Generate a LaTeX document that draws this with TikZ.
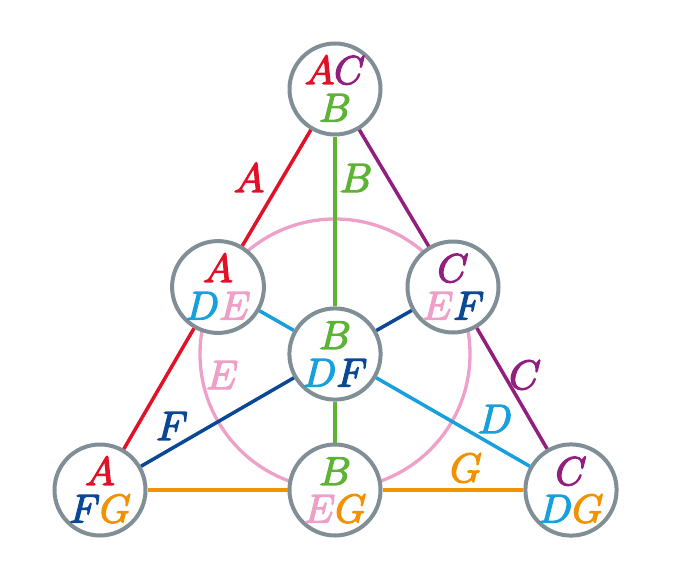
\RequirePackage{fix-cm}
\documentclass[tikz,border=0pt]{standalone}
\definecolor{cA}{RGB}{225,18,40}
\definecolor{cB}{RGB}{94,178,52}
\definecolor{cC}{RGB}{146,30,128}
\definecolor{cD}{RGB}{24,160,220}
\definecolor{cE}{RGB}{238,160,200}
\definecolor{cF}{RGB}{10,72,150}
\definecolor{cG}{RGB}{242,146,0}
\definecolor{cGray}{RGB}{128,142,150}
\newcommand\tk[1]{\special{pdf:literal direct 2 Tr 1.4 w}#1\special{pdf:literal direct 0 Tr}}
\begin{document}
\begin{tikzpicture}[x=1pt,y=-1pt,
  pt/.style={circle,draw=cGray,line width=4pt,fill=white,minimum size=91pt,inner sep=0pt,align=center,font=\fontsize{40}{37.5}\selectfont},
  ln/.style={line width=3.5pt},
  lbl/.style={font=\fontsize{41}{41}\selectfont,inner sep=0pt}]
\useasboundingbox[fill=white] (0,0) rectangle (679,573);
\coordinate (cc) at (335,354);
\draw[cE, line width=3.3pt] (cc) circle[radius=135];
\node[pt] (T)  at (335,89)  {\tk{$\color{cA}A\color{cC}C$}\\\tk{$\color{cB}B$}};
\node[pt] (L1) at (218,287) {\tk{$\color{cA}A$}\\\tk{$\color{cD}D\color{cE}E$}};
\node[pt] (R1) at (453,287) {\tk{$\color{cC}C$}\\\tk{$\color{cE}E\color{cF}F$}};
\node[pt] (C)  at (335,354) {\tk{$\color{cB}B$}\\\tk{$\color{cD}D\color{cF}F$}};
\node[pt] (BL) at (100,490) {\tk{$\color{cA}A$}\\\tk{$\color{cF}F\color{cG}G$}};
\node[pt] (BM) at (335,490) {\tk{$\color{cB}B$}\\\tk{$\color{cE}E\color{cG}G$}};
\node[pt] (BR) at (571,490) {\tk{$\color{cC}C$}\\\tk{$\color{cD}D\color{cG}G$}};
\draw[ln,cA] (T) -- (L1) -- (BL);
\draw[ln,cB] (T) -- (C) -- (BM);
\draw[ln,cC] (T) -- (R1) -- (BR);
\draw[ln,cD] (L1) -- (C) -- (BR);
\draw[ln,cF] (BL) -- (C) -- (R1);
\draw[ln,cG] (BL) -- (BM) -- (BR);
\node[lbl,text=cA] (lA) at (249,178) {\tk{$A$}};
\node[lbl,text=cB] (lB) at (356,178) {\tk{$B$}};
\node[lbl,text=cC] (lC) at (525,375) {\tk{$C$}};
\node[lbl,text=cD] (lD) at (495,419) {\tk{$D$}};
\node[lbl,text=cE] (lE) at (222,375) {\tk{$E$}};
\node[lbl,text=cF] (lF) at (172,426) {\tk{$F$}};
\node[lbl,text=cG] (lG) at (466,468) {\tk{$G$}};
\end{tikzpicture}
\end{document}
